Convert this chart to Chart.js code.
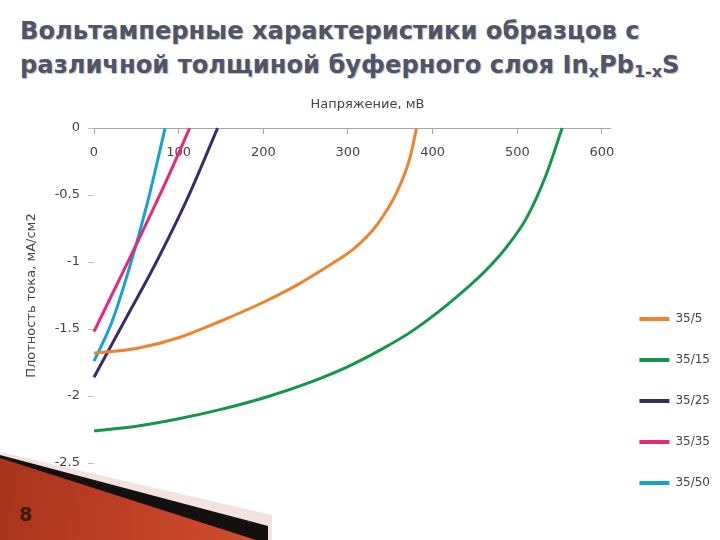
<!DOCTYPE html>
<html>
<head>
<meta charset="utf-8">
<script src="https://cdn.jsdelivr.net/npm/chart.js@4.4.1/dist/chart.umd.min.js"></script>
<style>
  html, body { margin: 0; padding: 0; background: #fff; }
  #slide { position: relative; width: 720px; height: 540px; overflow: hidden; }
  .deco { position: absolute; left: 0; top: 0; width: 720px; height: 540px; }
  #decoPink { background: #f4e2de; clip-path: polygon(0 452px, 272px 515px, 272px 540px, 0 540px); }
  #decoBlack { background: #141010; clip-path: polygon(0 455px, 268px 526px, 268px 540px, 0 540px); }
  #decoRed { background: linear-gradient(100deg, #9a2c16 0%, #c8462a 35%, #e36a48 70%, #d9583a 100%);
             clip-path: polygon(0 458px, 256px 540px, 0 540px); }
  #slideNo { position: absolute; left: 19px; top: 503px; font: bold 19px "DejaVu Sans", sans-serif; color: #3a1c12; }
  #title { position: absolute; left: 20px; top: 14px; font: bold 24.2px/34px "DejaVu Sans", sans-serif;
           color: #4f5569; text-shadow: 1px 1px 1px rgba(0,0,0,0.25); white-space: nowrap; }
  #title sub { font-size: 16px; vertical-align: -4px; line-height: 0; }
  #chartBox { position: absolute; left: 0; top: 0; width: 720px; height: 540px; }
</style>
</head>
<body>
<div id="slide">
  <div class="deco" id="decoPink"></div>
  <div class="deco" id="decoBlack"></div>
  <div class="deco" id="decoRed"></div>
  <div id="slideNo">8</div>
  <div id="title">Вольтамперные характеристики образцов с<br>различной толщиной буферного слоя In<sub>x</sub>Pb<sub>1-x</sub>S</div>
  <div id="chartBox"><canvas id="chart" width="720" height="540"></canvas></div>
</div>
<script>
// напряжение (мВ) и плотность тока (мА/см2) для каждого образца
const seriesNames = ['35/5', '35/15', '35/25', '35/35', '35/50'];

const voltage_35_5 = [0, 50, 100, 150, 200, 240, 279, 307, 334, 358, 373, 381];
const current_35_5 = [-1.68, -1.645, -1.565, -1.44, -1.30, -1.17, -1.02, -0.90, -0.724, -0.475, -0.226, 0];

const voltage_35_15 = [0, 50, 100, 150, 200, 250, 300, 340, 377, 417, 460, 487, 511, 534, 553];
const current_35_15 = [-2.26, -2.225, -2.17, -2.10, -2.015, -1.91, -1.78, -1.65, -1.51, -1.32, -1.08, -0.89, -0.67, -0.35, 0];

const voltage_35_25 = [0, 36, 72, 110, 146];
const current_35_25 = [-1.86, -1.44, -1.02, -0.53, 0];

const voltage_35_35 = [0, 28, 56, 85, 113];
const current_35_35 = [-1.52, -1.155, -0.79, -0.40, 0];

const voltage_35_50 = [0, 21, 42, 63, 84];
const current_35_50 = [-1.74, -1.45, -1.04, -0.56, 0];

const xTicks = [0, 100, 200, 300, 400, 500, 600];
const yTicks = [0, -0.5, -1, -1.5, -2, -2.5];

const seriesColors = ['#f0822f', '#13964a', '#3b2b6b', '#e5287a', '#16a1d4'];

const voltages = [voltage_35_5, voltage_35_15, voltage_35_25, voltage_35_35, voltage_35_50];
const currents = [current_35_5, current_35_15, current_35_25, current_35_35, current_35_50];

const textColor = '#444';
const font = { family: '"DejaVu Sans", sans-serif', size: 13 };

const datasets = seriesNames.map((name, i) => ({
    label: name,
    data: voltages[i].map((v, k) => ({ x: v, y: currents[i][k] })),
    borderColor: seriesColors[i],
    backgroundColor: seriesColors[i],
    borderWidth: 3,
    pointRadius: 0,
    cubicInterpolationMode: 'monotone',
    clip: 4
}));

new Chart(document.getElementById('chart'), {
    type: 'line',
    data: { datasets },
    options: {
        responsive: false,
        animation: false,
        layout: { padding: { left: 15, right: 0, top: 0, bottom: 22 } },
        plugins: {
            title: {
                display: true,
                text: 'Напряжение, мВ',
                color: textColor,
                font: { family: font.family, size: 13, weight: 'normal' },
                padding: { top: 97, bottom: 15.5 }
            },
            legend: {
                position: 'right',
                align: 'end',
                labels: {
                    boxWidth: 30,
                    boxHeight: 4,
                    padding: 29,
                    color: textColor,
                    font: { family: font.family, size: 12 },
                    generateLabels: chart =>
                        Chart.defaults.plugins.legend.labels.generateLabels(chart)
                            .map(item => ({ ...item, lineWidth: 0 }))
                }
            },
            tooltip: { enabled: false }
        },
        scales: {
            x: {
                type: 'linear',
                position: { y: 0 },
                min: 0,
                max: 610,
                afterBuildTicks: scale => { scale.ticks = xTicks.map(v => ({ value: v })); },
                ticks: { color: textColor, font, padding: 12, maxRotation: 0, callback: v => String(v) },
                grid: { drawOnChartArea: false, tickLength: 5, color: '#a6a6a6' },
                border: { color: '#a6a6a6' }
            },
            y: {
                type: 'linear',
                min: -2.5,
                max: 0,
                afterBuildTicks: scale => { scale.ticks = yTicks.map(v => ({ value: v })); },
                afterFit: scale => { scale.width = 79; },
                ticks: { color: textColor, font, padding: 8, callback: v => String(v) },
                grid: { drawOnChartArea: false, tickLength: 6, color: '#bfbfbf' },
                border: { display: false },
                title: {
                    display: true,
                    text: 'Плотность тока, мА/см2',
                    color: textColor,
                    font: { family: font.family, size: 13 },
                    padding: { top: 9, bottom: 0 }
                }
            },
            xSpace: {
                type: 'linear',
                position: 'bottom',
                afterFit: scale => { scale.height = 55; },
                ticks: { display: false },
                grid: { display: false },
                border: { display: false }
            }
        }
    }
});
</script>
</body>
</html>
